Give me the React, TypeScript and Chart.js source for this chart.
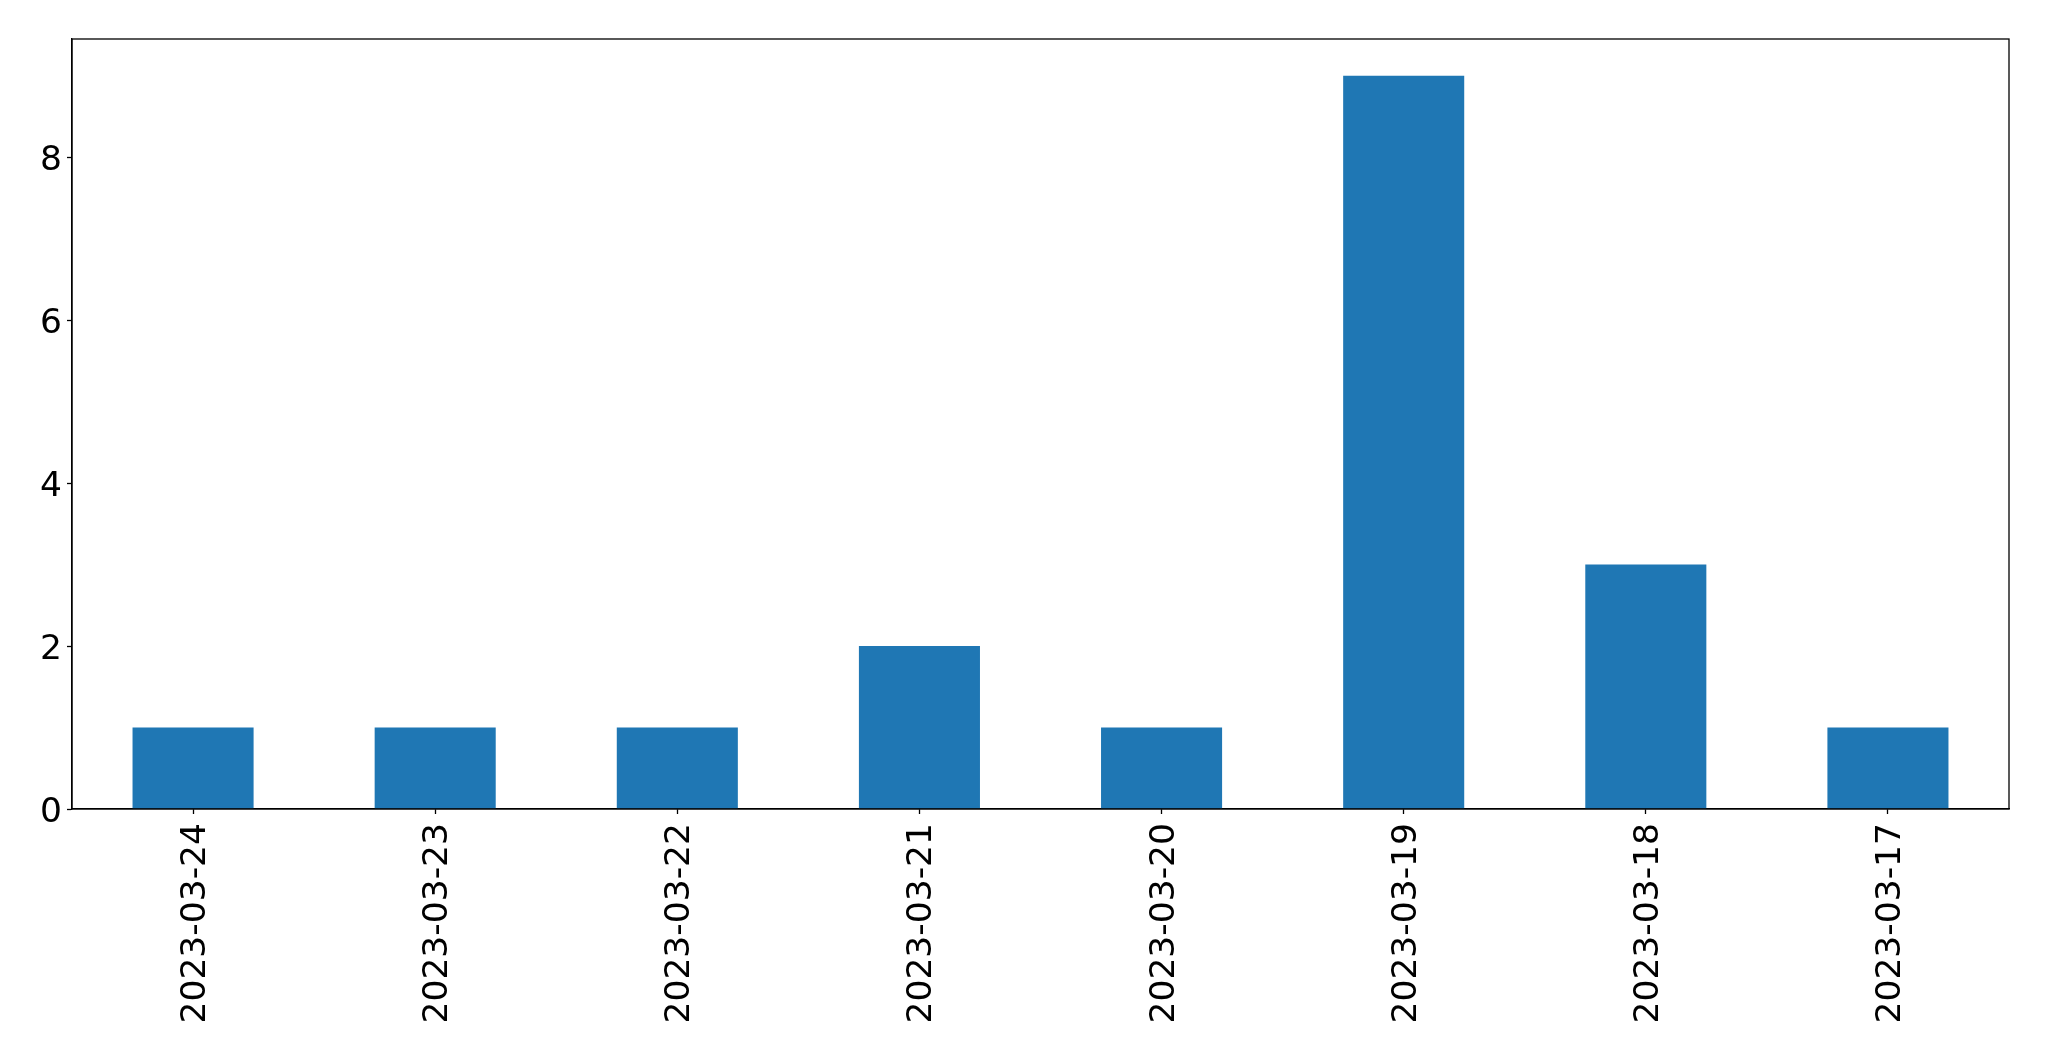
import React, { useEffect, useRef } from "react";
import { Chart, registerables } from "chart.js";

Chart.register(...registerables);

const categories = [
  "2023-03-24",
  "2023-03-23",
  "2023-03-22",
  "2023-03-21",
  "2023-03-20",
  "2023-03-19",
  "2023-03-18",
  "2023-03-17",
];
const counts = [1, 1, 1, 2, 1, 9, 3, 1];
const yTicks = [0, 2, 4, 6, 8];

const W = 2049;
const H = 1061;
const AREA = { left: 72, right: 2009, top: 39, bottom: 809 };

const frame = {
  id: "frame",
  afterDraw(chart: any) {
    const { ctx, chartArea } = chart;
    ctx.save();
    ctx.strokeStyle = "#000";
    ctx.lineWidth = 1.3;
    ctx.strokeRect(
      chartArea.left,
      chartArea.top,
      chartArea.right - chartArea.left,
      chartArea.bottom - chartArea.top
    );
    ctx.restore();
  },
};

export default function App() {
  const ref = useRef<HTMLCanvasElement | null>(null);
  useEffect(() => {
    if (!ref.current) return;
    const font = { family: "DejaVu Sans", size: 34.5 };
    const chart = new Chart(ref.current, {
      type: "bar",
      data: {
        labels: categories,
        datasets: [
          {
            data: counts,
            backgroundColor: "#1f77b4",
            borderWidth: 0,
            barPercentage: 0.5,
            categoryPercentage: 1,
          },
        ],
      },
      options: {
        animation: false,
        responsive: false,
        maintainAspectRatio: false,
        layout: {
          padding: { left: 0, top: AREA.top, right: W - AREA.right, bottom: 0 },
        },
        plugins: {
          legend: { display: false },
          tooltip: { enabled: false },
        },
        scales: {
          x: {
            offset: true,
            grid: {
              display: true,
              drawOnChartArea: false,
              drawTicks: true,
              tickLength: 5,
              tickWidth: 1.3,
              color: "#000",
              offset: false,
            },
            border: { display: true, color: "#000", width: 1.3 },
            ticks: {
              font,
              color: "#000",
              maxRotation: 90,
              minRotation: 90,
              autoSkip: false,
              padding: 9,
              labelOffset: 3,
            },
            afterFit(scale: any) {
              scale.height = H - AREA.bottom;
            },
          },
          y: {
            min: 0,
            max: 9.45,
            grid: {
              display: true,
              drawOnChartArea: false,
              drawTicks: true,
              tickLength: 5,
              tickWidth: 1.3,
              color: "#000",
            },
            border: { display: true, color: "#000", width: 1.3 },
            ticks: {
              font,
              color: "#000",
              stepSize: 2,
              includeBounds: false,
              padding: 5,
              labelOffset: 4,
            },
            afterBuildTicks(scale: any) {
              scale.ticks = yTicks.map((v) => ({ value: v }));
            },
            afterFit(scale: any) {
              scale.width = AREA.left;
            },
          },
        },
      },
      plugins: [frame],
    });
    return () => chart.destroy();
  }, []);
  return (
    <div style={{ position: "fixed", left: 0, top: 0, width: W, height: H, background: "#fff" }}>
      <canvas ref={ref} width={W} height={H} style={{ width: W, height: H }} />
    </div>
  );
}
